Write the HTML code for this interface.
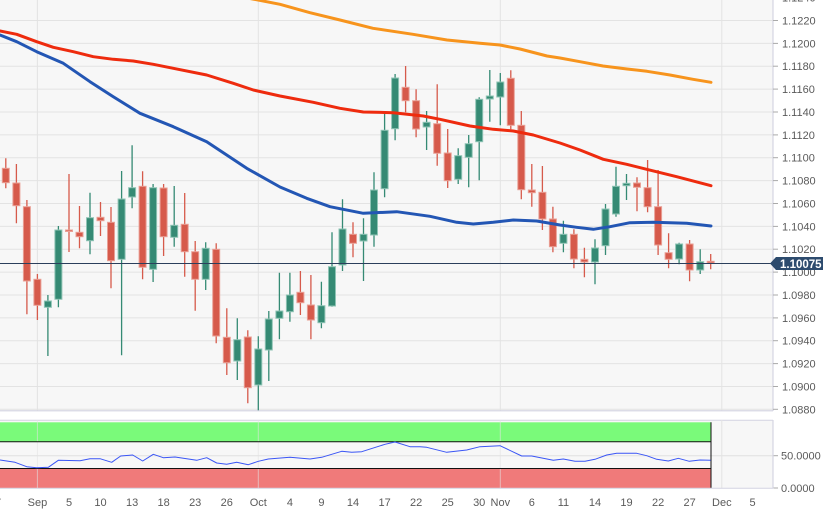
<!DOCTYPE html>
<html><head><meta charset="utf-8"><style>
html,body{margin:0;padding:0;background:#fff;}
svg{display:block;}
text{font-family:"Liberation Sans",Arial,sans-serif;}
</style></head><body>
<svg width="834" height="511" viewBox="0 0 834 511" xmlns="http://www.w3.org/2000/svg">
<rect x="0" y="0" width="834" height="511" fill="#fff"/>
<!-- main plot background -->
<rect x="0" y="0" width="773" height="411" fill="#f7f7f7"/>
<!-- horizontal grid -->
<g stroke="#e3e3e3" stroke-width="1">
<line x1="0" y1="-2.4" x2="773" y2="-2.4"/>
<line x1="0" y1="20.5" x2="773" y2="20.5"/>
<line x1="0" y1="43.4" x2="773" y2="43.4"/>
<line x1="0" y1="66.2" x2="773" y2="66.2"/>
<line x1="0" y1="89.1" x2="773" y2="89.1"/>
<line x1="0" y1="112" x2="773" y2="112"/>
<line x1="0" y1="134.9" x2="773" y2="134.9"/>
<line x1="0" y1="157.7" x2="773" y2="157.7"/>
<line x1="0" y1="180.6" x2="773" y2="180.6"/>
<line x1="0" y1="203.5" x2="773" y2="203.5"/>
<line x1="0" y1="226.4" x2="773" y2="226.4"/>
<line x1="0" y1="249.2" x2="773" y2="249.2"/>
<line x1="0" y1="272.1" x2="773" y2="272.1"/>
<line x1="0" y1="295" x2="773" y2="295"/>
<line x1="0" y1="317.9" x2="773" y2="317.9"/>
<line x1="0" y1="340.7" x2="773" y2="340.7"/>
<line x1="0" y1="363.6" x2="773" y2="363.6"/>
<line x1="0" y1="386.5" x2="773" y2="386.5"/>
<line x1="0" y1="409.3" x2="773" y2="409.3"/>
</g>
<!-- vertical grid -->
<g stroke="#e3e3e3" stroke-width="1">
<line x1="37.4" y1="0" x2="37.4" y2="411"/>
<line x1="258.3" y1="0" x2="258.3" y2="411"/>
<line x1="500.3" y1="0" x2="500.3" y2="411"/>
<line x1="721.8" y1="0" x2="721.8" y2="411"/>
</g>

<!-- red candles -->
<g>
<path stroke="#d65a4b" stroke-width="1.3" fill="none" d="M5.8 158.3V188.3M16.4 164V223.3M26.9 200V314.3M37.4 274V320M69 174V252M79.5 206V248.3M100.5 202V236M111 207V288.3M142.6 171.3V279.3M163.6 184V256M184.7 193V276.7M195.2 241V310.7M216.2 243.3V343.3M226.8 308.3V375M247.8 330.3V403.3M300.4 271V315M310.9 275V339.3M353 222.3V257.3M405.6 66V112.3M416.1 89.3V137.3M437.2 84.3V165.7M447.7 129V188M510.8 70.3V129.3M521.3 111V199.3M531.8 164V206.7M542.4 166V230M552.9 206.7V252.3M573.9 229.3V268.3M584.4 247.7V277.3M637 177.3V211.3M647.6 160V212.3M658.1 170V255M668.6 233.3V268.3M689.6 240V281.3M710.7 254V269.3"/>
<g fill="#d65a4b" stroke="#e9a096" stroke-width="1">
<rect x="2.3" y="168.3" width="7" height="14.4"/>
<rect x="12.9" y="183" width="7" height="22.7"/>
<rect x="23.4" y="206.7" width="7" height="74.3"/>
<rect x="33.9" y="279.3" width="7" height="26"/>
<rect x="65.5" y="230" width="7" height="1.5"/>
<rect x="76" y="232.3" width="7" height="4.4"/>
<rect x="97" y="217.3" width="7" height="3.4"/>
<rect x="107.5" y="222.3" width="7" height="38.4"/>
<rect x="139.1" y="186.3" width="7" height="81"/>
<rect x="160.1" y="188" width="7" height="48.7"/>
<rect x="181.2" y="224.3" width="7" height="27.4"/>
<rect x="191.7" y="251.7" width="7" height="27.6"/>
<rect x="212.7" y="249.3" width="7" height="86.7"/>
<rect x="223.3" y="337.3" width="7" height="25.4"/>
<rect x="244.3" y="337" width="7" height="50.7"/>
<rect x="296.9" y="292.3" width="7" height="10.4"/>
<rect x="307.4" y="305" width="7" height="15"/>
<rect x="349.5" y="234.3" width="7" height="9"/>
<rect x="402.1" y="87.3" width="7" height="13.4"/>
<rect x="412.6" y="100.7" width="7" height="28.3"/>
<rect x="433.7" y="123.7" width="7" height="29.6"/>
<rect x="444.2" y="153" width="7" height="27.7"/>
<rect x="507.3" y="78.3" width="7" height="47"/>
<rect x="517.8" y="125.3" width="7" height="64.4"/>
<rect x="528.3" y="190" width="7" height="2.7"/>
<rect x="538.9" y="192.3" width="7" height="26.7"/>
<rect x="549.4" y="219" width="7" height="27.7"/>
<rect x="570.4" y="234.3" width="7" height="24.7"/>
<rect x="580.9" y="259.3" width="7" height="2.7"/>
<rect x="633.5" y="183" width="7" height="4.3"/>
<rect x="644.1" y="187.7" width="7" height="19"/>
<rect x="654.6" y="206.7" width="7" height="38.3"/>
<rect x="665.1" y="252.7" width="7" height="6.6"/>
<rect x="686.1" y="244" width="7" height="26"/>
<rect x="707.2" y="261.3" width="7" height="1.7"/>
</g>
</g>

<!-- green candles -->
<g>
<path stroke="#358a74" stroke-width="1.3" fill="none" d="M47.9 295V356M58.4 226V307.3M90 192.7V254.3M121.6 171V355.3M132.1 145.3V208.3M153.1 184V282M174.2 186V246.7M205.7 242.3V290M237.3 318.3V380M258.3 336.3V410.7M268.8 311V381M279.4 272.7V339.3M289.9 272.7V321.7M321.4 281.7V328.3M332 232.3V306.7M342.5 199.3V271M363.5 218.3V281M374 172.3V246.7M384.6 111V197.3M395.1 74V140.3M426.6 111V150M458.2 148.3V184M468.7 135V187.3M479.2 97.3V180.3M489.8 70V121.7M500.3 73V125.3M563.4 220.7V252.3M595 239.3V284.3M605.5 204V255M616 166.7V216.7M626.5 174V200M679.1 242.7V264.3M700.2 249.3V274"/>
<g fill="#358a74" stroke="#8fc4b5" stroke-width="1">
<rect x="44.4" y="301" width="7" height="6.3"/>
<rect x="54.9" y="230" width="7" height="69.3"/>
<rect x="86.5" y="217.7" width="7" height="23"/>
<rect x="118.1" y="199" width="7" height="60.3"/>
<rect x="128.6" y="187.7" width="7" height="9.3"/>
<rect x="149.6" y="187.7" width="7" height="81.6"/>
<rect x="170.7" y="225.3" width="7" height="12"/>
<rect x="202.2" y="248.3" width="7" height="31"/>
<rect x="233.8" y="339.7" width="7" height="21.3"/>
<rect x="254.8" y="349" width="7" height="36"/>
<rect x="265.3" y="319" width="7" height="31"/>
<rect x="275.9" y="311" width="7" height="7.3"/>
<rect x="286.4" y="295" width="7" height="16.7"/>
<rect x="317.9" y="305.7" width="7" height="17"/>
<rect x="328.5" y="266.7" width="7" height="39.3"/>
<rect x="339" y="229" width="7" height="36"/>
<rect x="360" y="234.3" width="7" height="6.7"/>
<rect x="370.5" y="190" width="7" height="45"/>
<rect x="381.1" y="130.3" width="7" height="58.4"/>
<rect x="391.6" y="78" width="7" height="50.7"/>
<rect x="423.1" y="122.3" width="7" height="4.7"/>
<rect x="454.7" y="155.7" width="7" height="23.6"/>
<rect x="465.2" y="143.7" width="7" height="13.6"/>
<rect x="475.7" y="99.3" width="7" height="42.4"/>
<rect x="486.3" y="96" width="7" height="3"/>
<rect x="496.8" y="82" width="7" height="15"/>
<rect x="559.9" y="234.3" width="7" height="9"/>
<rect x="591.5" y="248" width="7" height="14"/>
<rect x="602" y="209" width="7" height="36.7"/>
<rect x="612.5" y="186.3" width="7" height="27.7"/>
<rect x="623" y="183.3" width="7" height="2.4"/>
<rect x="675.6" y="244" width="7" height="15"/>
<rect x="696.7" y="261.7" width="7" height="8.3"/>
</g>
</g>

<!-- moving averages -->
<g fill="none" stroke-width="3" stroke-linejoin="round" stroke-linecap="round">
<path stroke="#f7941d" d="M250 -1.5 L280 4.3 L310 12.7 L340 20 L373 28.3 L413 34.3 L447 40 L480 43.3 L500 45 L520 49 L547 56 L560 58 L580 61.7 L603 66 L627 69 L647 71.3 L670 75 L693 79.3 L711 82.3"/>
<path stroke="#ee2b0e" d="M0 31 L16.7 34.3 L36.7 41.7 L53.3 47.3 L73.3 51.7 L93.3 56.7 L113.3 59.3 L133.3 61 L153.3 64.3 L173.3 68.3 L206.7 75 L233.3 83.3 L253.3 90 L280 96 L313.3 102.3 L340 108.3 L363.3 112 L393.3 112.7 L423.3 116 L440 119.3 L470 126 L493.3 129.3 L513.3 131 L533.3 135 L560 143 L580 150 L603.3 159.3 L626.7 164.3 L646.7 169.3 L676.7 176.7 L711 185.7"/>
<path stroke="#2356b4" d="M0 35 L16.7 41.7 L36.7 51.7 L63.3 63.3 L90 81.7 L113.3 96.7 L140 113.3 L173.3 126.7 L206.7 141.7 L226.7 155 L246.7 168.3 L280 187 L306.7 198.3 L330 206.7 L363.3 213.3 L396.7 211.7 L430 216.3 L456.7 222.3 L473.3 224 L493.3 222.3 L513.3 220 L536.7 221 L560 225 L576.7 227.3 L593.3 229.3 L610 226.7 L630 222.7 L653.3 222.3 L686.7 223.3 L711 226"/>
</g>

<!-- current price line -->
<line x1="0" y1="263.5" x2="773" y2="263.5" stroke="#2b3f5c" stroke-width="1"/>

<!-- main borders -->
<line x1="0" y1="410.8" x2="773" y2="410.8" stroke="#d4d4e2" stroke-width="1.2"/>
<line x1="773" y1="0" x2="773" y2="411" stroke="#d4d4e2" stroke-width="1.2"/>

<!-- y axis ticks and labels -->
<g stroke="#aaa" stroke-width="1">
<line x1="773" y1="20.5" x2="778" y2="20.5"/>
<line x1="773" y1="43.4" x2="778" y2="43.4"/>
<line x1="773" y1="66.2" x2="778" y2="66.2"/>
<line x1="773" y1="89.1" x2="778" y2="89.1"/>
<line x1="773" y1="112" x2="778" y2="112"/>
<line x1="773" y1="134.9" x2="778" y2="134.9"/>
<line x1="773" y1="157.7" x2="778" y2="157.7"/>
<line x1="773" y1="180.6" x2="778" y2="180.6"/>
<line x1="773" y1="203.5" x2="778" y2="203.5"/>
<line x1="773" y1="226.4" x2="778" y2="226.4"/>
<line x1="773" y1="249.2" x2="778" y2="249.2"/>
<line x1="773" y1="272.1" x2="778" y2="272.1"/>
<line x1="773" y1="295" x2="778" y2="295"/>
<line x1="773" y1="317.9" x2="778" y2="317.9"/>
<line x1="773" y1="340.7" x2="778" y2="340.7"/>
<line x1="773" y1="363.6" x2="778" y2="363.6"/>
<line x1="773" y1="386.5" x2="778" y2="386.5"/>
<line x1="773" y1="409.3" x2="778" y2="409.3"/>
<line x1="773" y1="455.7" x2="778" y2="455.7"/>
<line x1="773" y1="488" x2="778" y2="488"/>
</g>
<g fill="#5a5a5a" font-size="11">
<text x="782" y="1.6">1.1240</text>
<text x="782" y="24.5">1.1220</text>
<text x="782" y="47.4">1.1200</text>
<text x="782" y="70.2">1.1180</text>
<text x="782" y="93.1">1.1160</text>
<text x="782" y="116">1.1140</text>
<text x="782" y="138.9">1.1120</text>
<text x="782" y="161.7">1.1100</text>
<text x="782" y="184.6">1.1080</text>
<text x="782" y="207.5">1.1060</text>
<text x="782" y="230.4">1.1040</text>
<text x="782" y="253.2">1.1020</text>
<text x="782" y="276.1">1.1000</text>
<text x="782" y="299">1.0980</text>
<text x="782" y="321.9">1.0960</text>
<text x="782" y="344.7">1.0940</text>
<text x="782" y="367.6">1.0920</text>
<text x="782" y="390.5">1.0900</text>
<text x="782" y="413.3">1.0880</text>
<text x="781" y="459.7">50.0000</text>
<text x="781" y="492">0.0000</text>
</g>

<!-- price label -->
<path d="M770 263.5 L776 257 L823 257 L823 270 L776 270 Z" fill="#2d4b6e"/>
<text x="780" y="267.8" font-size="11.5" font-weight="bold" fill="#fff">1.10075</text>

<!-- indicator panel -->
<rect x="0" y="420.3" width="773" height="67.7" fill="#f7f7f7"/>
<line x1="0" y1="420.3" x2="773" y2="420.3" stroke="#d4d4e2" stroke-width="1"/>
<line x1="0" y1="455.7" x2="773" y2="455.7" stroke="#e0e0e0" stroke-width="1"/>
<rect x="0" y="422.3" width="711" height="19.5" fill="#7afa7a"/>
<rect x="0" y="468.5" width="711" height="19.5" fill="#f07a7a"/>
<g stroke="#e3e3e3" stroke-width="1" opacity="0.6">
<line x1="37.4" y1="420" x2="37.4" y2="488"/>
<line x1="258.3" y1="420" x2="258.3" y2="488"/>
<line x1="500.3" y1="420" x2="500.3" y2="488"/>
</g>
<line x1="721.8" y1="420" x2="721.8" y2="488" stroke="#e3e3e3" stroke-width="1"/>
<g stroke="#111" stroke-width="1">
<line x1="0" y1="441.8" x2="711" y2="441.8"/>
<line x1="0" y1="468.5" x2="711" y2="468.5"/>
<line x1="711" y1="422.3" x2="711" y2="488"/>
</g>
<polyline fill="none" stroke="#3a55f5" stroke-width="1" stroke-linejoin="round" points="0,460 15,462.3 26.7,466.7 36.7,467.7 48.3,467.3 58.3,460.3 80,460.7 90,458.7 100,458.7 111.7,462.3 120.7,456 132.7,455 142.7,461 153.3,454.3 163.3,457.7 175,457 196.7,460.3 206.7,457.7 216.7,463 226.7,464.3 236.7,462.3 248.3,464.7 258.3,461.3 268.3,459 290,457.3 310,459 321.7,457.3 341.7,451.3 351.7,452.3 361.7,451.7 385,444.3 395,442 410,446.7 420,446.7 426.7,447.3 446.7,452.3 466.7,450 480,446.7 500,445.7 521.7,456 531.7,456 553.3,460.3 563.3,459 575,461.3 585,461.3 595,459.3 606.7,455 616.7,453.3 636.7,453.3 646.7,455.7 656.7,459.3 668.3,461 678.3,458.3 689.3,461.3 700,460 710.7,460.3"/>
<line x1="0" y1="488.3" x2="773" y2="488.3" stroke="#d4d4e2" stroke-width="1"/>
<line x1="773" y1="420" x2="773" y2="488.5" stroke="#d4d4e2" stroke-width="1.2"/>

<!-- x axis labels -->
<g fill="#5a5a5a" font-size="11" text-anchor="middle">
<text x="-5" y="506">27</text>
<text x="37.4" y="506">Sep</text>
<text x="69" y="506">5</text>
<text x="100.5" y="506">10</text>
<text x="132.1" y="506">13</text>
<text x="163.6" y="506">18</text>
<text x="195.2" y="506">23</text>
<text x="226.8" y="506">26</text>
<text x="258.3" y="506">Oct</text>
<text x="289.9" y="506">4</text>
<text x="321.4" y="506">9</text>
<text x="353" y="506">14</text>
<text x="384.6" y="506">17</text>
<text x="416.1" y="506">22</text>
<text x="447.7" y="506">25</text>
<text x="479.2" y="506">30</text>
<text x="500.3" y="506">Nov</text>
<text x="531.8" y="506">6</text>
<text x="563.4" y="506">11</text>
<text x="595" y="506">14</text>
<text x="626.5" y="506">19</text>
<text x="658.1" y="506">22</text>
<text x="689.6" y="506">27</text>
<text x="721.8" y="506">Dec</text>
<text x="752.6" y="506">5</text>
</g>
</svg>
</body></html>
